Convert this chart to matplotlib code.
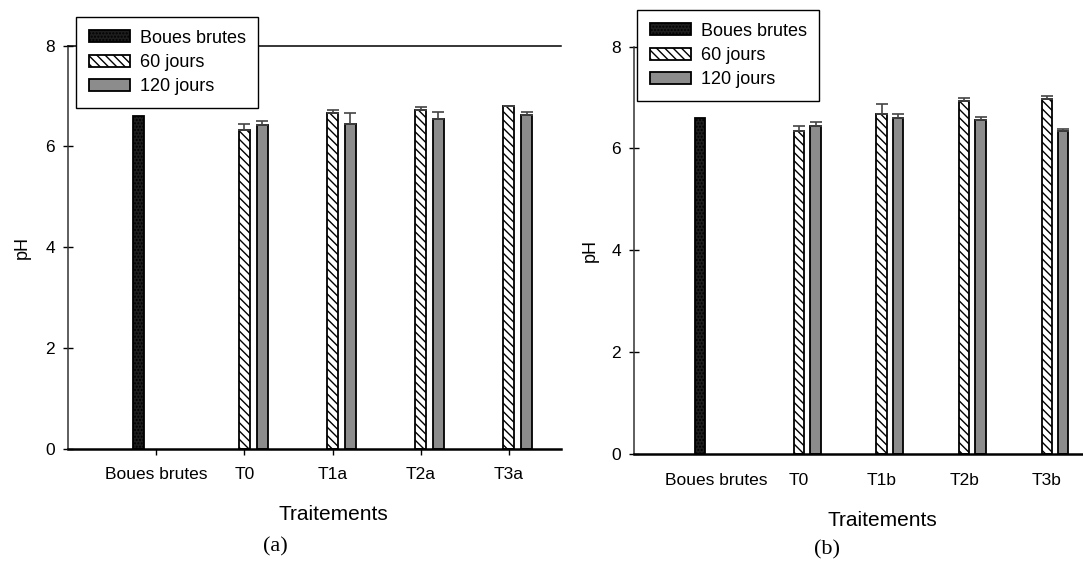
import numpy as np
import matplotlib
matplotlib.use('Agg')
import matplotlib.pyplot as plt
from matplotlib import rcParams

rcParams['font.family'] = ['Liberation Sans', 'DejaVu Sans']
rcParams['hatch.linewidth'] = 1.0

# data
cats_a = ['Boues brutes', 'T0', 'T1a', 'T2a', 'T3a']
cats_b = ['Boues brutes', 'T0', 'T1b', 'T2b', 'T3b']
boues = 6.6
j60_a = [6.33, 6.67, 6.73, 6.80]
j60_a_err = [0.11, 0.05, 0.05, 0.01]
j120_a = [6.43, 6.45, 6.55, 6.62]
j120_a_err = [0.08, 0.21, 0.14, 0.07]
j60_b = [6.34, 6.67, 6.94, 6.97]
j60_b_err = [0.11, 0.21, 0.06, 0.06]
j120_b = [6.44, 6.60, 6.56, 6.34]
j120_b_err = [0.07, 0.08, 0.05, 0.04]
labels = ['Boues brutes', '60 jours', '120 jours']

W, H = 1083, 563
fig = plt.figure(figsize=(W / 100, H / 100), dpi=100)

bw = 0.125
off = 0.2


def panel(rect, cats, v60, e60, v120, e120, top_line, xticks_on, leg_xy, xl_xy, yl_x, letter_xy, letter):
    ax = fig.add_axes(rect)
    x = np.arange(len(cats))
    kw = dict(width=bw, edgecolor='black', linewidth=1.3)
    b0 = ax.bar(x[0] - off, boues, color='#1e1e1e', hatch='.....', **kw)
    b1 = ax.bar(x[1:], v60, color='white', hatch='\\\\\\\\', **kw)
    b2 = ax.bar(x[1:] + off, v120, color='#8c8c8c', **kw)
    ax.errorbar(x[1:], v60, yerr=[np.zeros(len(v60)), e60], fmt='none',
                ecolor='#444444', elinewidth=1.2, capsize=4, capthick=1.2)
    ax.errorbar(x[1:] + off, v120, yerr=[np.zeros(len(v120)), e120], fmt='none',
                ecolor='#444444', elinewidth=1.2, capsize=4, capthick=1.2)
    ax.set_ylim(0, 8)
    ax.set_yticks([0, 2, 4, 6, 8])
    ax.set_xticks(x)
    ax.set_xticklabels(cats)
    ax.spines['right'].set_visible(False)
    ax.spines['top'].set_visible(top_line)
    ax.spines['left'].set_linewidth(1.1)
    ax.spines['left'].set_color('#333333')
    ax.spines['bottom'].set_linewidth(1.8)
    ax.spines['top'].set_linewidth(1.1)
    ax.tick_params(axis='y', direction='inout', length=7, width=1, pad=6, labelsize=12.5)
    if xticks_on:
        ax.tick_params(axis='x', direction='out', length=4, width=1, pad=9, labelsize=12.5)
    else:
        ax.tick_params(axis='x', length=0, pad=14, labelsize=12.5)
    ax.set_xlabel('Traitements', fontsize=15)
    ax.set_ylabel('pH', fontsize=13)
    ax.xaxis.set_label_coords(*xl_xy)
    ax.yaxis.set_label_coords(yl_x, 0.5)
    ax.xaxis.label.set_va('center')
    ax.yaxis.label.set_va('center')
    leg = ax.legend([b0, b1, b2], labels, loc='upper left', bbox_to_anchor=leg_xy,
                    bbox_transform=fig.transFigure, borderaxespad=0, fontsize=13,
                    fancybox=False, framealpha=1, edgecolor='black',
                    handlelength=2.28, handleheight=0.67, handletextpad=0.55,
                    labelspacing=0.41, borderpad=0.7)
    leg.get_frame().set_linewidth(1.0)
    fig.text(letter_xy[0], letter_xy[1], letter, fontsize=16, family='Liberation Serif',
             ha='center', va='center')
    return ax


def fx(px):
    return px / W


def fy(py):
    return 1 - py / H


# panel (a)
ax_a = panel([fx(68), fy(449), fx(561 - 68), (449 - 45.5) / H], cats_a,
             j60_a, j60_a_err, j120_a, j120_a_err, True, True,
             (fx(76), fy(17)), ((333 - 68) / 493, (449 - 514) / 403.5),
             (22 - 68) / 493, (fx(275), fy(547)), '(a)')
ax_a.set_xlim(-1, 4.59)

# panel (b)
ax_b = panel([fx(634), fy(453.5), fx(1083 - 634), (453.5 - 46.7) / H], cats_b,
             j60_b, j60_b_err, j120_b, j120_b_err, False, False,
             (fx(637), fy(10)), ((882 - 634) / 449, (453.5 - 521) / 406.8),
             (590 - 634) / 449, (fx(827), fy(550)), '(b)')
ax_b.set_xlim(-1, 4.44)

fig.savefig('out.png', dpi=100)
